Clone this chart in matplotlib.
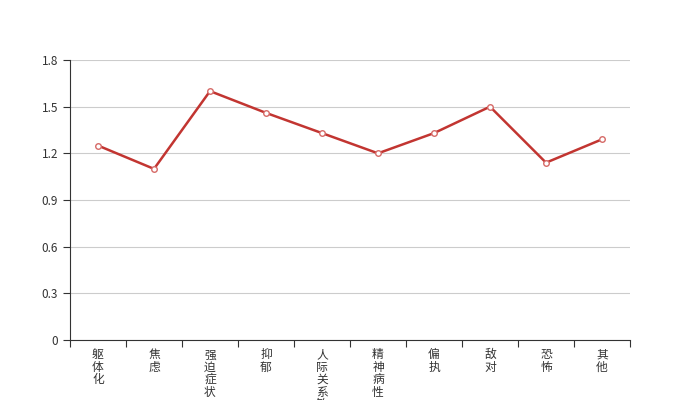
import matplotlib
matplotlib.use("Agg")
import matplotlib.pyplot as plt
import numpy as np

plt.rcParams['font.family'] = ['Noto Sans CJK SC', 'DejaVu Sans']

categories = ["躯体化", "焦虑", "强迫症状", "抑郁", "人际关系敏感", "精神病性", "偏执", "敌对", "恐怖", "其他"]
values = [1.25, 1.10, 1.60, 1.46, 1.33, 1.20, 1.33, 1.50, 1.14, 1.29]
yticks = [0, 0.3, 0.6, 0.9, 1.2, 1.5, 1.8]

fig = plt.figure(figsize=(7, 4), dpi=100)
ax = fig.add_axes([0.1, 0.15, 0.8, 0.7])

x = np.arange(len(categories)) + 0.5
ax.plot(x, values, color="#c23531", lw=1.8, marker="o", ms=4,
        mfc="white", mec="#d66a67", mew=1.0, zorder=3)

ax.set_xlim(0, len(categories))
ax.set_ylim(0, 1.8)
ax.set_yticks(yticks)
ax.set_yticklabels([f"{v:g}" if v != 0 else "0" for v in yticks])
ax.yaxis.grid(True, color="#cccccc", lw=0.8)
ax.set_axisbelow(True)

ax.set_xticks(np.arange(len(categories) + 1))
ax.set_xticklabels([])
ax.set_xticks(x, minor=True)
ax.set_xticklabels(["\n".join(c) for c in categories], minor=True,
                   fontsize=8.5, color="#333333", linespacing=0.94, va="top")
ax.tick_params(axis="x", which="major", length=5, color="#333333")
ax.tick_params(axis="x", which="minor", length=0, pad=6)
ax.tick_params(axis="y", length=5, color="#333333", labelsize=8.5, labelcolor="#333333")

for s in ["top", "right"]:
    ax.spines[s].set_visible(False)
ax.spines["left"].set_color("#333333")
ax.spines["bottom"].set_color("#333333")

fig.savefig("out.png", dpi=100)
